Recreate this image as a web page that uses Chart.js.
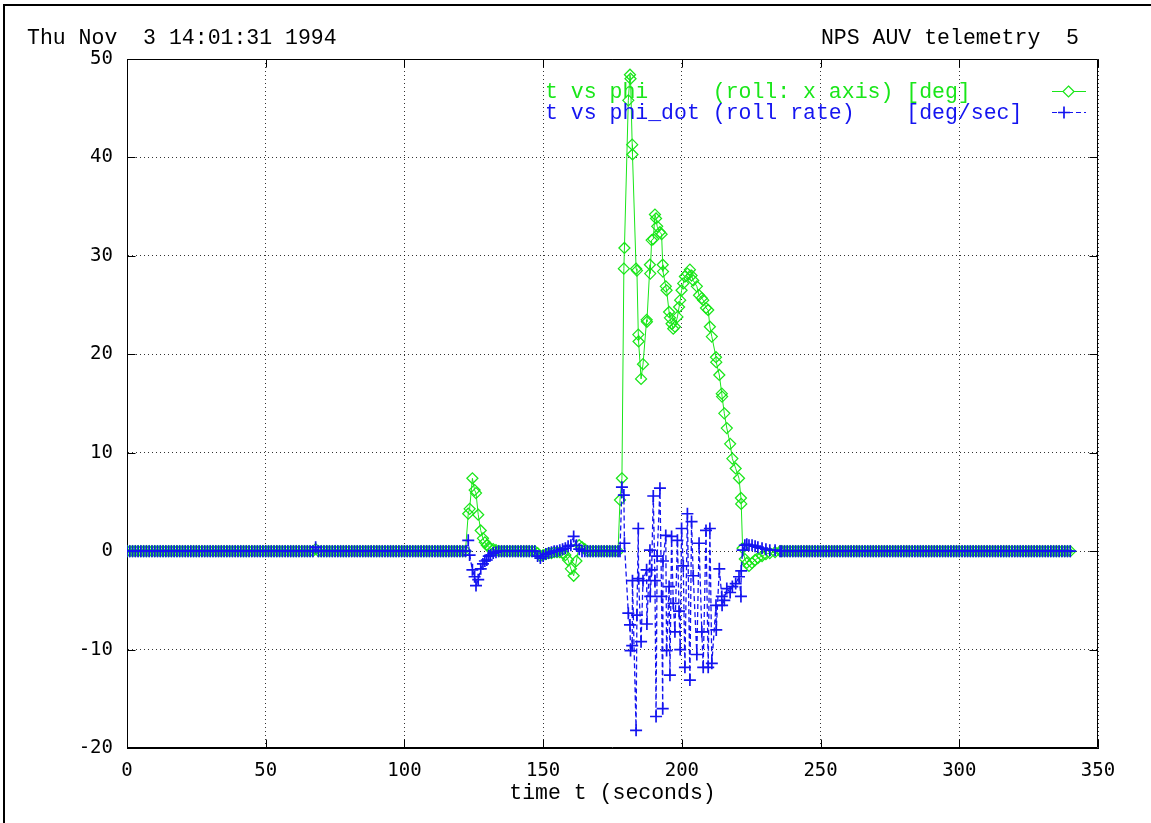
<!DOCTYPE html>
<html><head><meta charset="utf-8">
<script src="https://cdn.jsdelivr.net/npm/chart.js@4.4.1/dist/chart.umd.min.js"></script>
<style>
html,body{margin:0;padding:0;background:#fff;overflow:hidden;}
#wrap{position:relative;width:1151px;height:823px;overflow:hidden;}
#frame{position:absolute;left:3px;top:4px;width:1170px;height:840px;border:2px solid #000;box-sizing:border-box;}
#c{position:absolute;left:0;top:0;}
</style></head><body>
<div id="wrap"><div id="frame"></div><canvas id="c" width="1151" height="823"></canvas></div>
<script>
// ---- data (time in seconds) ----
const timeS = [
0,1,2,3,4,5,6,7,8,9,10,11,12,13,14,15,16,17,18,19,
20,21,22,23,24,25,26,27,28,29,30,31,32,33,34,35,36,37,38,39,
40,41,42,43,44,45,46,47,48,49,50,51,52,53,54,55,56,57,58,59,
60,61,62,63,64,65,66,67,68,69,70,71,72,73,74,75,76,77,78,79,
80,81,82,83,84,85,86,87,88,89,90,91,92,93,94,95,96,97,98,99,
100,101,102,103,104,105,106,107,108,109,110,111,112,113,114,115,116,117,118,119,
120,121,122,
123,123.5,124.5,125.3,125.8,126.6,127.5,128.3,129,129.7,130.4,131,132,133,
134,135,136,137,138,139,140,141,142,143,144,145,146,147,
148,149,150,151,152,153,154,155,156,157,158,159,160,161,162,163,164,165,
166,167,168,169,170,171,172,173,174,175,176,177,
177.7,178.4,179.1,179.3,180.7,181.3,181.5,182.1,182.2,183.5,
183.8,184.3,184.4,185.3,186.0,187.3,187.4,188.5,188.6,189.1,
189.7,190.3,190.7,191.1,192.1,192.7,193.1,193.2,194.2,194.5,
195.4,195.7,196.3,196.9,197.5,198.4,199.0,199.4,199.9,200.5,
201.1,202.0,202.9,203.5,204.1,205.4,206.2,207.2,207.7,208.7,
209.5,210.1,210.8,212.3,212.4,213.5,214.4,214.5,215.3,216.2,
217.4,218.2,219.4,220.6,221.3,221.4,221.9,222.7,223.4,224.2,
225.3,226.4,227.4,228.9,230.3,231.7,233.6,235.4,
236,237,238,239,240,241,242,243,244,245,246,247,248,249,250,251,252,253,254,255,
256,257,258,259,260,261,262,263,264,265,266,267,268,269,270,271,272,273,274,275,
276,277,278,279,280,281,282,283,284,285,286,287,288,289,290,291,292,293,294,295,
296,297,298,299,300,301,302,303,304,305,306,307,308,309,310,311,312,313,314,315,
316,317,318,319,320,321,322,323,324,325,326,327,328,329,330,331,332,333,334,335,
336,337,338,339,340
];

// roll angle phi [deg]
const phi = [
0,0,0,0,0,0,0,0,0,0, 0,0,0,0,0,0,0,0,0,0,
0,0,0,0,0,0,0,0,0,0, 0,0,0,0,0,0,0,0,0,0,
0,0,0,0,0,0,0,0,0,0, 0,0,0,0,0,0,0,0,0,0,
0,0,0,0,0,0,0,0,0.2,0, 0,0,0,0,0,0,0,0,0,0,
0,0,0,0,0,0,0,0,0,0, 0,0,0,0,0,0,0,0,0,0,
0,0,0,0,0,0,0,0,0,0, 0,0,0,0,0,0,0,0,0,0,
0,0,0,
3.8,4.3,7.4,6.2,5.9,3.7,2.1,1.3,0.9,0.6,0.4,0.3,0.2,0.1,
0,0,0,0,0,0,0,0,0,0,0,0,0,0,
-0.2,-0.5,-0.4,-0.3,-0.2,-0.2,-0.1,-0.1,-0.1,-0.2,-0.4,-0.9,-1.8,-2.5,-1.0,0.6,0.4,0.2,
0,0,0,0,0,0,0,0,0,0,0,0,
5.2,7.4,28.7,30.8,45.8,48.4,48.0,41.3,40.3,28.7,
28.5,22.0,21.3,17.5,19.0,23.5,23.3,29.1,28.2,31.6,
31.7,34.2,33.8,33.0,32.4,32.2,29.1,28.4,26.9,26.5,
24.3,23.7,23.1,22.6,22.8,23.8,24.8,25.5,26.5,27.2,
27.9,28.2,28.6,28.0,27.5,26.9,26.0,25.7,25.5,24.7,
24.5,22.8,21.8,19.7,19.2,17.9,16.0,15.7,14.0,12.5,
10.9,9.4,8.4,7.4,5.4,4.8,0.3,-0.8,-1.2,-1.5,
-1.2,-0.9,-0.7,-0.5,-0.3,-0.2,-0.1,0,
0,0,0,0,0,0,0,0,0,0, 0,0,0,0,0,0,0,0,0,0,
0,0,0,0,0,0,0,0,0,0, 0,0,0,0,0,0,0,0,0,0,
0,0,0,0,0,0,0,0,0,0, 0,0,0,0,0,0,0,0,0,0,
0,0,0,0,0,0,0,0,0,0, 0,0,0,0,0,0,0,0,0,0,
0,0,0,0,0,0,0,0,0,0, 0,0,0,0,0,0,0,0,0,0,
0,0,0,0,0
];

// roll rate phi_dot [deg/sec]
const phiDot = [
0,0,0,0,0,0,0,0,0,0, 0,0,0,0,0,0,0,0,0,0,
0,0,0,0,0,0,0,0,0,0, 0,0,0,0,0,0,0,0,0,0,
0,0,0,0,0,0,0,0,0,0, 0,0,0,0,0,0,0,0,0,0,
0,0,0,0,0,0,0,0,0.4,0, 0,0,0,0,0,0,0,0,0,0,
0,0,0,0,0,0,0,0,0,0, 0,0,0,0,0,0,0,0,0,0,
0,0,0,0,0,0,0,0,0,0, 0,0,0,0,0,0,0,0,0,0,
0,0,0,
1.1,-0.4,-1.9,-2.6,-3.5,-2.9,-1.8,-1.3,-1.0,-0.9,-0.5,-0.4,-0.2,-0.1,
0,0,0,0,0,0,0,0,0,0,0,0,0,0,
-0.5,-0.7,-0.5,-0.3,-0.2,-0.1,0,0,0.1,0.2,0.3,0.5,0.6,1.5,0.6,0.2,0,0,
0,0,0,0,0,0,0,0,0,0,0,0,
0.0,6.5,5.7,0.8,-6.3,-7.5,-10.1,-9.6,-3.0,-18.2,
-6.5,2.3,-2.8,-9.2,-3.0,-1.9,-7.4,0.1,-4.6,-1.9,
5.6,-3.0,-16.8,-0.5,6.4,-4.6,-16.0,-1.0,1.6,-10.1,
-3.6,-12.6,1.5,-5.3,-8.2,1.1,-6.1,-10.0,2.3,-1.5,
-11.8,3.8,-13.1,3.0,-2.5,-10.5,0.8,-8.2,-11.8,2.1,
-11.8,2.3,-11.4,-5.5,-8.0,-1.8,-4.6,-5.5,-5.0,-3.8,
-4.2,-3.6,-3.3,-2.6,-4.6,-2.0,0.1,0.6,0.7,0.6,
0.6,0.5,0.4,0.3,0.2,0.1,0.1,0,
0,0,0,0,0,0,0,0,0,0, 0,0,0,0,0,0,0,0,0,0,
0,0,0,0,0,0,0,0,0,0, 0,0,0,0,0,0,0,0,0,0,
0,0,0,0,0,0,0,0,0,0, 0,0,0,0,0,0,0,0,0,0,
0,0,0,0,0,0,0,0,0,0, 0,0,0,0,0,0,0,0,0,0,
0,0,0,0,0,0,0,0,0,0, 0,0,0,0,0,0,0,0,0,0,
0,0,0,0,0
];

const xTicks = [0, 50, 100, 150, 200, 250, 300, 350];
const yTicks = [-20, -10, 0, 10, 20, 30, 40, 50];
const headerLeft = 'Thu Nov  3 14:01:31 1994';
const headerRight = 'NPS AUV telemetry  5';
const legendPhi = 't vs phi     (roll: x axis) [deg]';
const legendDot = 't vs phi_dot (roll rate)    [deg/sec]';
const xTitle = 'time t (seconds)';

const GREEN = '#19e619';
const BLUE = '#1414f0';
const MONO = '"Liberation Mono", "DejaVu Sans Mono", monospace';

const decor = {
  id: 'decor',
  beforeDatasetsDraw(chart) {
    const {ctx, chartArea: a, scales: {x, y}} = chart;
    ctx.save();
    ctx.strokeStyle = '#000';
    ctx.lineWidth = 1;
    const L = Math.round(a.left) + 0.5, R = Math.round(a.right) - 0.5;
    const T = Math.round(a.top) + 0.5, B = Math.round(a.bottom) - 0.5;
    ctx.beginPath();
    ctx.moveTo(L, T); ctx.lineTo(R, T); ctx.lineTo(R, B); ctx.lineTo(L, B); ctx.closePath();
    ctx.stroke();
    // inward tick marks
    ctx.beginPath();
    xTicks.forEach(v => {
      const p = Math.round(x.getPixelForValue(v)) + 0.5;
      ctx.moveTo(p, B); ctx.lineTo(p, B - 8);
      ctx.moveTo(p, T); ctx.lineTo(p, T + 8);
    });
    yTicks.forEach(v => {
      const p = Math.round(y.getPixelForValue(v)) + 0.5;
      ctx.moveTo(L, p); ctx.lineTo(L + 8, p);
      ctx.moveTo(R, p); ctx.lineTo(R - 8, p);
    });
    ctx.stroke();
    ctx.restore();
  },
  afterDraw(chart) {
    const {ctx} = chart;
    ctx.save();
    ctx.font = '21.5px ' + MONO;
    ctx.textBaseline = 'middle';
    ctx.fillStyle = '#000';
    ctx.textAlign = 'left';
    ctx.fillText(headerLeft, 27, 38);
    ctx.textAlign = 'right';
    ctx.fillText(headerRight, 1079, 38);
    // legend
    ctx.textAlign = 'left';
    ctx.fillStyle = GREEN;
    ctx.fillText(legendPhi, 545, 92);
    ctx.fillStyle = BLUE;
    ctx.fillText(legendDot, 545, 113);
    // legend samples
    ctx.lineWidth = 1;
    ctx.strokeStyle = GREEN;
    ctx.beginPath(); ctx.moveTo(1052, 91.5); ctx.lineTo(1086, 91.5); ctx.stroke();
    ctx.lineWidth = 1.2;
    ctx.beginPath();
    ctx.moveTo(1068.5, 86); ctx.lineTo(1074, 91.5); ctx.lineTo(1068.5, 97); ctx.lineTo(1063, 91.5); ctx.closePath();
    ctx.fillStyle = '#fff'; ctx.fill(); ctx.stroke();
    ctx.strokeStyle = BLUE;
    ctx.lineWidth = 1.2;
    ctx.setLineDash([5, 3]);
    ctx.beginPath(); ctx.moveTo(1052, 112.5); ctx.lineTo(1086, 112.5); ctx.stroke();
    ctx.setLineDash([]);
    ctx.lineWidth = 1.7;
    ctx.beginPath(); ctx.moveTo(1058, 112.5); ctx.lineTo(1070, 112.5);
    ctx.moveTo(1064, 106.5); ctx.lineTo(1064, 118.5); ctx.stroke();
    ctx.restore();
  }
};

const tickFont = {family: '"DejaVu Sans Mono", "Liberation Mono", monospace', size: 19};

new Chart(document.getElementById('c'), {
  type: 'line',
  data: {
    datasets: [
      {
        label: legendPhi,
        data: timeS.map((t, i) => ({x: t, y: phi[i]})),
        borderColor: GREEN,
        borderWidth: 1,
        pointStyle: 'rectRot',
        pointRadius: 5.5,
        pointBorderWidth: 1.25,
        pointBorderColor: GREEN,
        pointBackgroundColor: 'rgba(0,0,0,0)',
        tension: 0,
        order: 2
      },
      {
        label: legendDot,
        data: timeS.map((t, i) => ({x: t, y: phiDot[i]})),
        borderColor: BLUE,
        borderWidth: 1.3,
        borderDash: [5, 3],
        pointStyle: 'cross',
        pointRadius: 6,
        pointBorderWidth: 1.7,
        pointBorderColor: BLUE,
        tension: 0,
        order: 1
      }
    ]
  },
  options: {
    responsive: false,
    animation: false,
    devicePixelRatio: 1,
    events: [],
    layout: {padding: {left: 0, top: 59, right: 53, bottom: 0}},
    plugins: {legend: {display: false}, tooltip: {enabled: false}, title: {display: false}},
    scales: {
      x: {
        type: 'linear', min: 0, max: 350,
        afterFit: s => { s.height = 75; },
        afterBuildTicks: s => { s.ticks = xTicks.map(v => ({value: v})); },
        ticks: {font: tickFont, color: '#000', padding: 12, maxRotation: 0},
        grid: {color: 'rgba(0,0,0,0.8)', lineWidth: 1, drawTicks: false},
        border: {display: true, color: '#000', width: 1, dash: [1, 3]},
        title: {display: true, text: xTitle, color: '#000', font: {family: MONO, size: 21.5}, padding: {top: 4, bottom: 17}}
      },
      y: {
        type: 'linear', min: -20, max: 50,
        afterFit: s => { s.width = 127; },
        afterBuildTicks: s => { s.ticks = yTicks.map(v => ({value: v})); },
        ticks: {font: tickFont, color: '#000', padding: 14},
        grid: {color: 'rgba(0,0,0,0.8)', lineWidth: 1, drawTicks: false},
        border: {display: true, color: '#000', width: 1, dash: [1, 3]}
      }
    }
  },
  plugins: [decor]
});
</script>
</body></html>
